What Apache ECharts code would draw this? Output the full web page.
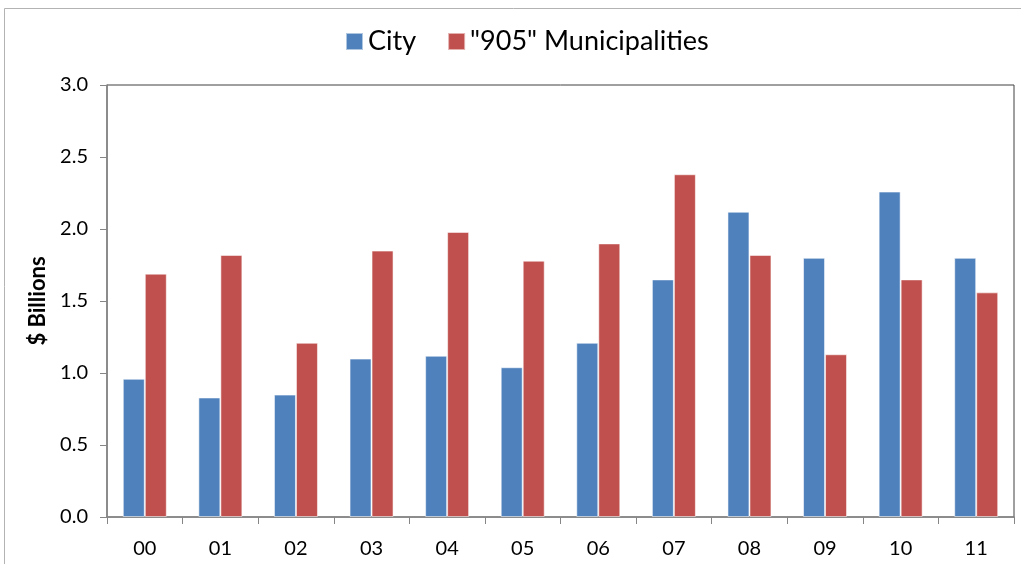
<!DOCTYPE html>
<html>
<head>
<meta charset="utf-8">
<script src="https://cdn.jsdelivr.net/npm/echarts@6/dist/echarts.min.js"></script>
<style>
  html, body { margin: 0; padding: 0; background: #fff; }
  #chart { width: 1021px; height: 564px; }
</style>
</head>
<body>
<div id="chart"></div>
<script>
// data
const years = ['00', '01', '02', '03', '04', '05', '06', '07', '08', '09', '10', '11']
const cityValues = [0.96, 0.83, 0.85, 1.10, 1.12, 1.04, 1.21, 1.65, 2.12, 1.80, 2.26, 1.80]
const muniValues = [1.69, 1.82, 1.21, 1.85, 1.98, 1.78, 1.90, 2.38, 1.82, 1.13, 1.65, 1.56]
const seriesNames = ['City', '"905" Municipalities']

const font = 'Lato, "Open Sans", sans-serif'

const myChart = echarts.init(document.getElementById('chart'))

const option = {
  animation: false,
  textStyle: { fontFamily: font },
  // outer chart frame (light grey, like Excel chart area)
  graphic: [{
    type: 'rect',
    shape: { x: 4.5, y: 8.5, width: 1040, height: 600 },
    style: { fill: 'none', stroke: '#b3b3b3', lineWidth: 1 },
    silent: true
  }],
  legend: {
    data: seriesNames,
    top: 23,
    left: 340,
    itemWidth: 17,
    itemHeight: 17,
    itemGap: 31,
    icon: 'rect',
    textStyle: { fontSize: 27, color: '#000', fontFamily: font }
  },
  grid: {
    left: 107,
    right: 7,
    top: 85,
    bottom: 47,
    show: true,
    borderColor: '#404040',
    borderWidth: 1
  },
  xAxis: {
    type: 'category',
    data: years,
    boundaryGap: true,
    axisLine: { lineStyle: { color: '#868686', width: 1.5 } },
    axisTick: { show: true, length: 7, lineStyle: { color: '#868686' } },
    axisLabel: { fontSize: 20, color: '#000', margin: 22, fontFamily: font }
  },
  yAxis: {
    type: 'value',
    min: 0,
    max: 3,
    interval: 0.5,
    name: '$ Billions',
    nameLocation: 'middle',
    nameGap: 56,
    nameTextStyle: { fontSize: 22, fontWeight: 'bold', color: '#000', fontFamily: font },
    axisLine: { show: true, lineStyle: { color: '#868686', width: 1.5 } },
    axisTick: { show: true, length: 7, lineStyle: { color: '#868686' } },
    splitLine: { show: false },
    axisLabel: {
      fontSize: 20,
      color: '#000',
      margin: 19,
      fontFamily: font,
      formatter: v => v.toFixed(1)
    }
  },
  series: [
    {
      name: seriesNames[0],
      type: 'bar',
      data: cityValues,
      barWidth: 22,
      barGap: '0%',
      itemStyle: { color: '#4f81bd', borderColor: 'rgba(255,255,255,0.55)', borderWidth: 1 }
    },
    {
      name: seriesNames[1],
      type: 'bar',
      data: muniValues,
      barWidth: 22,
      barGap: '0%',
      itemStyle: { color: '#c0504d', borderColor: 'rgba(255,255,255,0.55)', borderWidth: 1 }
    }
  ]
}

myChart.setOption(option)
</script>
</body>
</html>
